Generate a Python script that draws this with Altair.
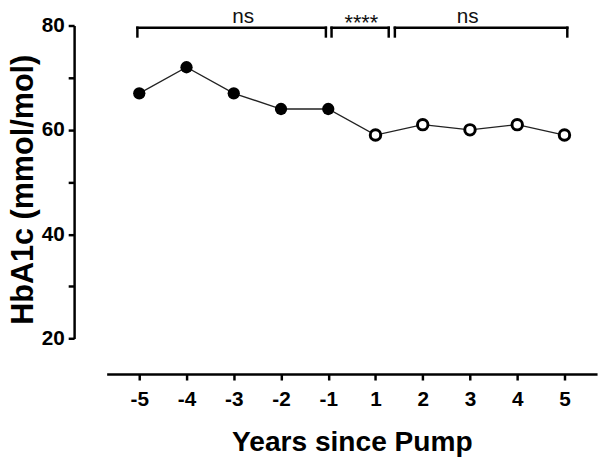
import altair as alt
import pandas as pd

# ---- data ----
years = ["-5", "-4", "-3", "-2", "-1", "1", "2", "3", "4", "5"]
hba1c = [67, 72, 67, 64, 64, 59, 61, 60, 61, 59]
phase = ["pre", "pre", "pre", "pre", "pre", "post", "post", "post", "post", "post"]

# significance brackets (positions on the category index axis)
bracket_start = [-0.04, 4.07, 5.41]
bracket_end = [3.95, 5.28, 9.06]
bracket_text = ["ns", "****", "ns"]
text_pos = [2.2, 4.7, 6.95]
text_y = [80.5, 79.1, 80.5]
text_size = [21, 22, 21]
bracket_top = 79.57
bracket_bottom = 77.9

y_ticks = [20, 30, 40, 50, 60, 70, 80]

FONT = "Liberation Sans"

df = pd.DataFrame({"idx": list(range(len(years))), "year": years,
                   "hba1c": hba1c, "phase": phase})

seg_rows = []
for s, e in zip(bracket_start, bracket_end):
    seg_rows.append({"x": s, "x2": e, "y": bracket_top, "y2": bracket_top})
    seg_rows.append({"x": s, "x2": s, "y": bracket_bottom, "y2": bracket_top})
    seg_rows.append({"x": e, "x2": e, "y": bracket_bottom, "y2": bracket_top})
seg_df = pd.DataFrame(seg_rows)

txt_df = pd.DataFrame({"x": text_pos, "y": text_y, "label": bracket_text,
                       "size": text_size})

label_array = "[" + ",".join("'" + y + "'" for y in years) + "]"

x_scale = alt.Scale(domain=[-0.69, len(years) - 1 + 0.69], nice=False, zero=False)
y_scale = alt.Scale(domain=[20, 80], nice=False, zero=False)

x_axis = alt.Axis(
    values=list(range(len(years))),
    labelExpr=label_array + "[datum.value]",
    offset=36, grid=False,
    domainWidth=2.5, domainColor="black",
    tickWidth=2.5, tickColor="black", tickSize=6,
    labelFont=FONT, labelFontSize=21, labelFontWeight="bold", labelColor="black",
    labelPadding=9,
    title="Years since Pump", titleFont=FONT, titleFontSize=28.5,
    titleFontWeight="bold", titleColor="black", titlePadding=18,
)

y_axis = alt.Axis(
    values=y_ticks,
    labelExpr="datum.value % 20 == 0 ? datum.label : ''",
    offset=33, grid=False,
    domainWidth=2.5, domainColor="black",
    tickWidth=2.5, tickColor="black", tickSize=6,
    labelFont=FONT, labelFontSize=21, labelFontWeight="bold", labelColor="black",
    labelPadding=4,
    title="HbA1c (mmol/mol)", titleFont=FONT, titleFontSize=31,
    titleFontWeight="bold", titleColor="black",
    titleAngle=270, titleBaseline="alphabetic", titleX=-42, titleY=166,
)

base = alt.Chart(df)

line = base.mark_line(color="#222222", strokeWidth=1.3).encode(
    x=alt.X("idx:Q", scale=x_scale, axis=x_axis),
    y=alt.Y("hba1c:Q", scale=y_scale, axis=y_axis),
)

filled = base.transform_filter(alt.datum.phase == "pre").mark_point(
    shape="circle", filled=True, color="black", size=155, opacity=1
).encode(x="idx:Q", y="hba1c:Q")

hollow = base.transform_filter(alt.datum.phase == "post").mark_point(
    shape="circle", filled=True, fill="white", stroke="black", strokeWidth=3,
    size=113, opacity=1
).encode(x="idx:Q", y="hba1c:Q")

brackets = alt.Chart(seg_df).mark_rule(
    color="black", strokeWidth=2.5, strokeCap="square"
).encode(x="x:Q", x2="x2:Q", y="y:Q", y2="y2:Q")

labels = alt.Chart(txt_df).mark_text(
    font=FONT, color="#111111", baseline="alphabetic", align="center"
).encode(x="x:Q", y="y:Q", text="label:N",
         size=alt.Size("size:Q", scale=None, legend=None))

chart = alt.layer(line, filled, hollow, brackets, labels).properties(
    width=497, height=317.3,
    autosize=alt.AutoSizeParams(type="none"),
    padding={"left": 100, "top": 14.7, "right": 5, "bottom": 119},
).configure_view(strokeOpacity=0)

chart.save("out.html", embed_options={"renderer": "svg", "actions": False})
